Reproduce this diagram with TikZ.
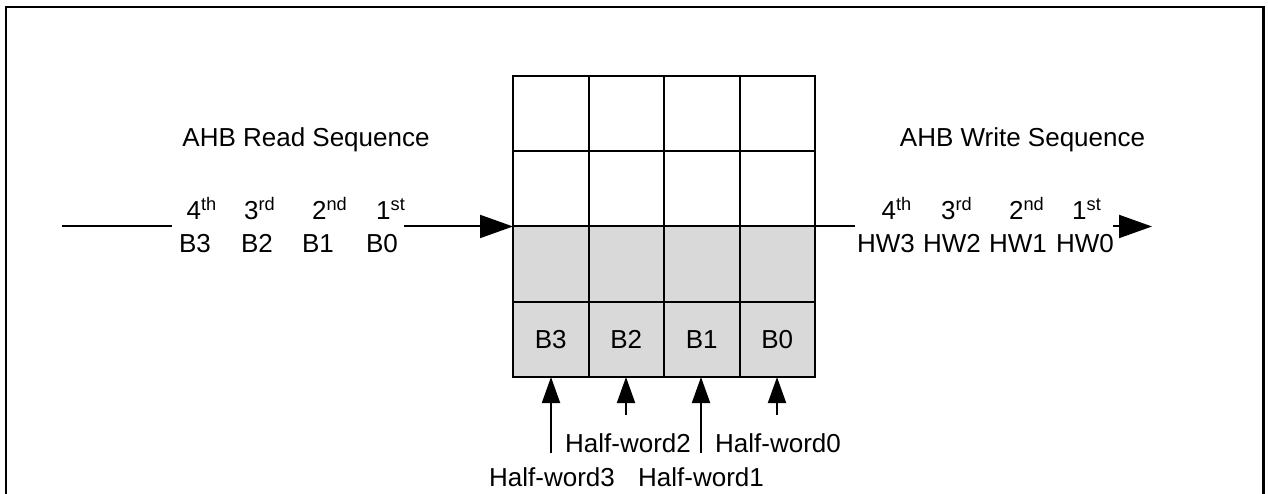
\documentclass[tikz,border=0pt]{standalone}
\usepackage{fontspec}
\setmainfont{Liberation Sans}
\usetikzlibrary{arrows.meta}
\definecolor{cellgray}{HTML}{D9D9D9}
\begin{document}
\begin{tikzpicture}[x=0.5pt,y=-0.5pt,
  cell/.style={draw, line width=1pt, outer sep=0pt, minimum width=37.75pt, minimum height=37.625pt, inner sep=0pt, font=\fontsize{13}{15}\selectfont},
  shaded/.style={cell, fill=cellgray},
  txt/.style={font=\fontsize{13}{15}\selectfont, inner sep=0pt},
  ord/.style={txt, anchor=base},
  conn/.style={line width=1pt},
  bigarrow/.style={conn, -{Triangle[length=16.5pt,width=11.5pt]}},
  smallarrow/.style={conn, -{Triangle[length=13pt,width=9pt]}}
]
\useasboundingbox (0,0) rectangle (1268,493);
% frame
\draw[line width=1.3pt] (6,510) -- (6,7) -- (1263.5,7) -- (1263.5,510);

% grid
\foreach \c/\x in {1/550.75,2/626.25,3/701.75,4/777.25}{
  \node[cell]   (r1c\c) at (\x,113.6) {};
  \node[cell]   (r2c\c) at (\x,188.9) {};
  \node[shaded] (r3c\c) at (\x,264.1) {};
}
\node[shaded] (r4c1) at (550.75,339.4) {B3};
\node[shaded] (r4c2) at (626.25,339.4) {B2};
\node[shaded] (r4c3) at (701.75,339.4) {B1};
\node[shaded] (r4c4) at (777.25,339.4) {B0};

% headings
\node[txt] (rdh) at (306,140) {AHB Read Sequence};
\node[txt] (wrh) at (1022.5,140) {AHB Write Sequence};

% read sequence
\node[ord] (ro4) at (202,219) {4\textsuperscript{th}};
\node[ord] (ro3) at (260,219) {3\textsuperscript{rd}};
\node[ord] (ro2) at (330,219) {2\textsuperscript{nd}};
\node[ord] (ro1) at (391,219) {1\textsuperscript{st}};
\node[ord] (rb3) at (195,252) {B3};
\node[ord] (rb2) at (257,252) {B2};
\node[ord] (rb1) at (318,252) {B1};
\node[ord] (rb0) at (382,252) {B0};
\coordinate (rlstart) at (62,0 |- r3c1.north west);
\coordinate (rlend) at (172,0 |- r3c1.north west);
\coordinate (rastart) at (404,0 |- r3c1.north west);
\draw[conn] (rlstart) -- (rlend);
\draw[bigarrow] (rastart) -- (r3c1.north west);

% write sequence
\node[ord] (wo4) at (897,219) {4\textsuperscript{th}};
\node[ord] (wo3) at (957,219) {3\textsuperscript{rd}};
\node[ord] (wo2) at (1027,219) {2\textsuperscript{nd}};
\node[ord] (wo1) at (1087,219) {1\textsuperscript{st}};
\node[ord] (wh3) at (886,252) {HW3};
\node[ord] (wh2) at (952,252) {HW2};
\node[ord] (wh1) at (1018,252) {HW1};
\node[ord] (wh0) at (1085,252) {HW0};
\coordinate (wlend) at (855,0 |- r3c4.north east);
\coordinate (wastart) at (1113,0 |- r3c4.north east);
\coordinate (waend) at (1152,0 |- r3c4.north east);
\draw[conn] (r3c4.north east) -- (wlend);
\draw[bigarrow] (wastart) -- (waend);

% half-word arrows
\coordinate (hw3s) at (551,453);
\coordinate (hw2s) at (626,415);
\coordinate (hw1s) at (701,453);
\coordinate (hw0s) at (777,415);
\draw[smallarrow] (hw3s) -- (hw3s |- r4c1.south);
\draw[smallarrow] (hw2s) -- (hw2s |- r4c2.south);
\draw[smallarrow] (hw1s) -- (hw1s |- r4c3.south);
\draw[smallarrow] (hw0s) -- (hw0s |- r4c4.south);
\node[txt] (hwl2) at (628,443) {Half-word2};
\node[txt] (hwl0) at (778,443) {Half-word0};
\node[txt] (hwl3) at (552,477) {Half-word3};
\node[txt] (hwl1) at (701,477) {Half-word1};
\end{tikzpicture}
\end{document}
